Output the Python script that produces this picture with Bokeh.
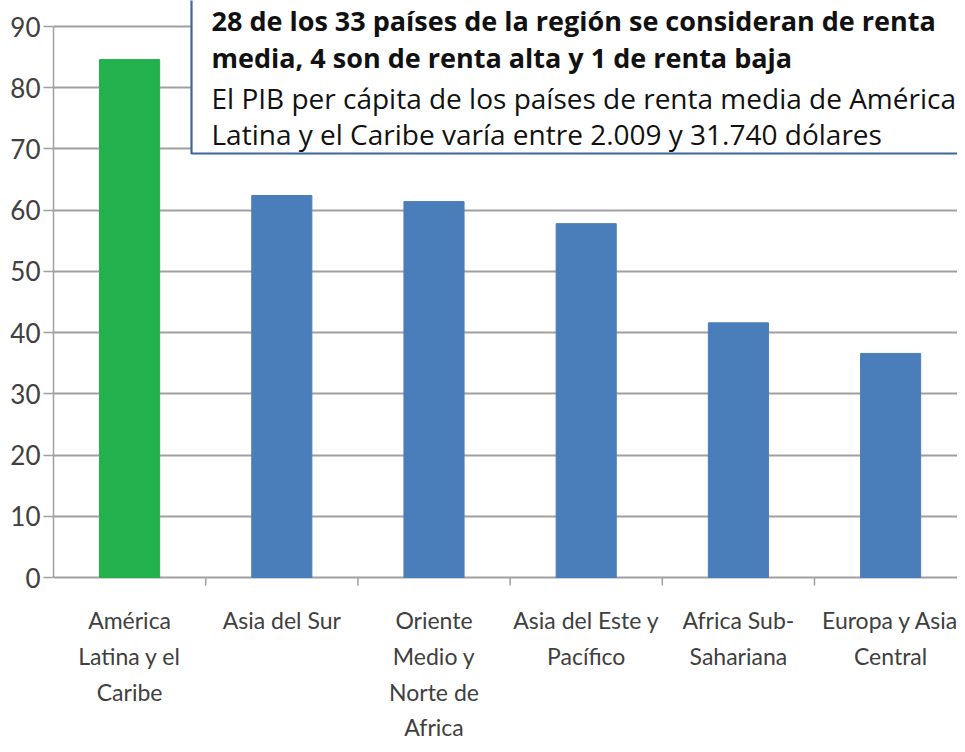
from bokeh.plotting import figure
from bokeh.models import (Range1d, LinearAxis, FixedTicker,
                          ColumnDataSource, BoxAnnotation, Label)
from bokeh.core.properties import value
from bokeh.embed import file_html
from bokeh.resources import INLINE

# ---------------- data ----------------
categories = ["América Latina y el Caribe", "Asia del Sur", "Oriente Medio y Norte de Africa",
              "Asia del Este y Pacífico", "Africa Sub-Sahariana", "Europa y Asia Central"]
category_labels = ["América\nLatina y el\nCaribe", "Asia del Sur", "Oriente\nMedio y\nNorte de\nAfrica",
                   "Asia del Este y\nPacífico", "Africa Sub-\nSahariana", "Europa y Asia\nCentral"]
values = [84.6, 62.4, 61.4, 57.8, 41.6, 36.6]
bar_colors = ["#22b14c", "#4a7ebb", "#4a7ebb", "#4a7ebb", "#4a7ebb", "#4a7ebb"]
y_ticks = [0, 10, 20, 30, 40, 50, 60, 70, 80, 90]
note_bold = ["28 de los 33 países de la región se consideran de renta",
             "media, 4 son de renta alta y 1 de renta baja"]
note_regular = ["El PIB per cápita de los países de renta media de América",
                "Latina y el Caribe varía entre 2.009 y 31.740 dólares"]

# ---------------- layout (pixel geometry) ----------------
W, H = 957, 744
LEFT = 53            # y axis line
SLOT = 152.2         # px per category
S = 6.122            # px per value unit
Y0_PX = 577          # canvas y of value 0
TICK_PX = 8          # boundary tick length below the axis
n = len(categories)

def dx(px):
    return (px - LEFT) / SLOT

def dy(py):
    return (Y0_PX - py) / S

x_end = dx(W)
y_top = dy(0)
y_bot = dy(H)
centers = [i + 0.5 for i in range(n)]
bounds_x = [i for i in range(1, n)]

AXIS_GREY = "#a0a0a0"
TEXT_GREY = "#404040"
FONT = "Lato"

p = figure(x_range=Range1d(0, x_end), y_range=Range1d(y_bot, y_top),
           width=W, height=H, output_backend="svg", toolbar_location=None,
           x_axis_location=None, y_axis_location=None,
           min_border_left=LEFT, min_border_right=0, min_border_top=0, min_border_bottom=0)
p.outline_line_color = None
p.background_fill_color = "white"
p.border_fill_color = "white"

# y axis
yax = LinearAxis(ticker=FixedTicker(ticks=y_ticks), bounds=(0, max(y_ticks)))
yax.axis_line_color = AXIS_GREY
yax.axis_line_width = 1.5
yax.major_tick_line_color = AXIS_GREY
yax.major_tick_line_width = 1.5
yax.major_tick_out = 10
yax.major_tick_in = 0
yax.minor_tick_line_color = None
yax.major_label_standoff = 3
yax.major_label_text_font = FONT
yax.major_label_text_font_size = "26px"
yax.major_label_text_color = TEXT_GREY
p.add_layout(yax, "left")

# grid (the 0 line doubles as the x axis line)
p.ygrid.ticker = FixedTicker(ticks=y_ticks)
p.ygrid.grid_line_color = AXIS_GREY
p.ygrid.grid_line_width = 2
p.xgrid.grid_line_color = None

# category boundary ticks below the axis
tick_end = dy(Y0_PX + TICK_PX)
p.segment(x0=bounds_x, x1=bounds_x, y0=[0] * len(bounds_x), y1=[tick_end] * len(bounds_x),
          line_color=AXIS_GREY, line_width=1.5)

src = ColumnDataSource(dict(x=centers, top=values, color=bar_colors, name=categories))
p.vbar(x="x", top="top", width=0.395, color="color", source=src)

# category labels, one line at a time
line_centers_px = [619, 655, 691, 726]
lx, ly, lt = [], [], []
for c, lab in zip(centers, category_labels):
    for k, part in enumerate(lab.split("\n")):
        lx.append(c)
        ly.append(dy(line_centers_px[k]))
        lt.append(part)
p.text(x=lx, y=ly, text=lt, text_font=value(FONT), text_font_size=value("23px"),
       text_color=TEXT_GREY, text_align="center", text_baseline="middle")

# note box
box = BoxAnnotation(left=dx(191), right=dx(1300), bottom=dy(153), top=dy(-80),
                    fill_color="white", fill_alpha=1.0,
                    line_color="#3d6799", line_alpha=1.0, line_width=2.2)
p.add_layout(box)

TX = dx(211)
base_px = [20, 57, 97, 133]
lines = [(note_bold[0], "bold", "27px"), (note_bold[1], "bold", "27px"),
         (note_regular[0], "normal", "28px"), (note_regular[1], "normal", "28px")]
for (txt, style, size), bp in zip(lines, base_px):
    p.add_layout(Label(x=TX, y=dy(bp), text=txt, text_font="Open Sans", text_font_size=size,
                       text_font_style=style, text_color="#111111",
                       text_baseline="alphabetic", text_align="left"))

open("out.html", "w").write(file_html(p, INLINE))
